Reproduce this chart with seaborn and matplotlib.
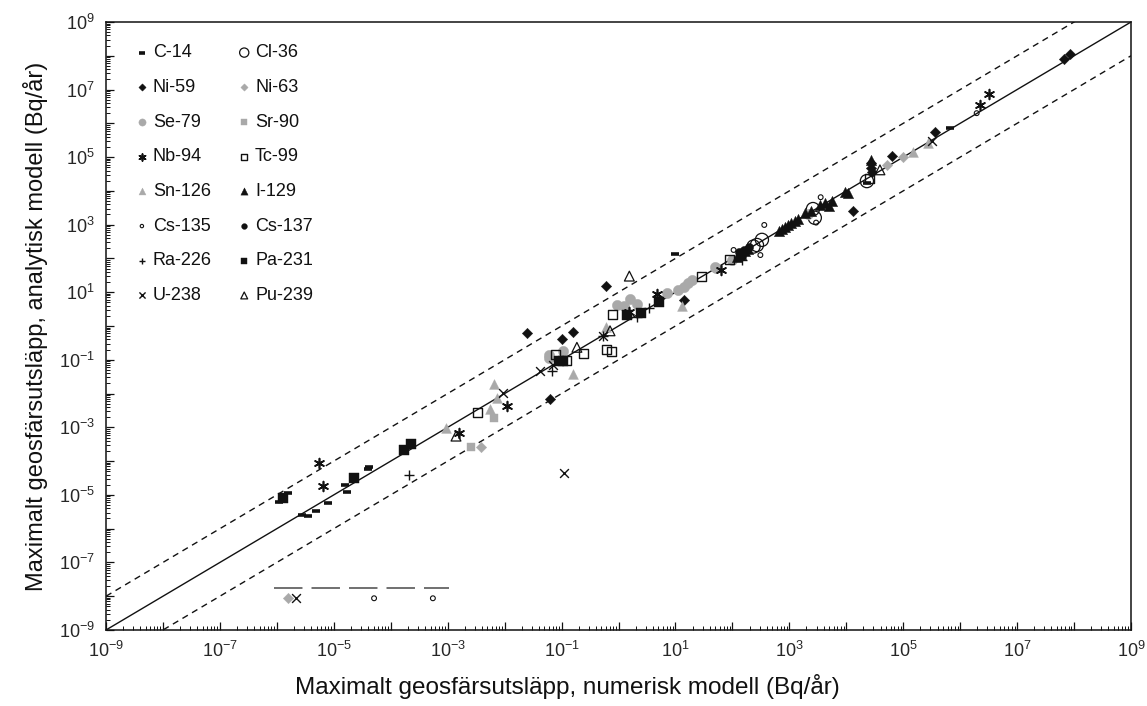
import numpy as np
import pandas as pd
import matplotlib
matplotlib.use("Agg")
import matplotlib.pyplot as plt
import seaborn as sns
from matplotlib.ticker import LogLocator, FuncFormatter, NullFormatter

# ---------------- data (numerisk, analytisk) ----------------
c14_num = [1.6e-6, 1.1e-6, 2.8e-6, 3.5e-6, 4.9e-6, 7.9e-6, 1.6e-5, 1.7e-5, 4.0e-5, 4.2e-5, 9.8, 2.3e4, 6.5e5]
c14_ana = [1.1e-5, 6.0e-6, 2.6e-6, 2.3e-6, 3.4e-6, 5.6e-6, 2.0e-5, 1.2e-5, 5.9e-5, 6.8e-5, 135, 1.7e4, 7.4e5]

cl36_num = [270, 330, 235, 2800, 2600, 2.3e4]
cl36_ana = [250, 355, 225, 1600, 2900, 1.95e4]

ni59_num = [0.025, 0.10, 0.16, 0.063, 0.60, 14, 1.3e4, 2.7e4, 2.7e4, 2.8e4, 6.3e4, 3.6e5, 6.6e7, 8.5e7]
ni59_ana = [0.60, 0.41, 0.68, 0.0068, 15.5, 5.9, 2.6e3, 6.6e4, 4.7e4, 3.7e4, 1.07e5, 5.6e5, 7.8e7, 1.12e8]

ni63_num = [1.6e-6, 3.8e-3, 5.2e4, 1.0e5]
ni63_ana = [8.7e-9, 2.7e-4, 5.9e4, 9.8e4]

se79_num = [0.059, 0.107, 0.059, 0.93, 1.23, 1.6, 2.1, 7.1, 11.2, 14, 16.6, 19.5, 50, 52, 100, 2140]
se79_ana = [0.14, 0.18, 0.11, 4.2, 3.9, 6.2, 4.5, 9.3, 11.7, 14, 19, 23, 55, 51, 93, 2040]

sr90_num = [6.5e-3, 2.6e-3]
sr90_ana = [1.9e-3, 2.6e-4]

nb94_num = [5.5e-6, 6.5e-6, 0.011, 1.55e-3, 1.5, 4.7, 63, 2.2e6, 3.2e6]
nb94_ana = [8.5e-5, 1.8e-5, 4.3e-3, 6.6e-4, 2.6, 8.9, 46, 3.5e6, 7.4e6]

tc99_num = [3.4e-3, 0.78, 0.62, 0.76, 0.245, 0.078, 0.123, 29, 89, 2.6e4]
tc99_ana = [2.75e-3, 2.2, 0.195, 0.18, 0.155, 0.148, 0.098, 29, 93, 2.3e4]

sn126_num = [6.5e-3, 7.4e-3, 5.5e-3, 9.3e-4, 0.16, 0.60, 12.9, 1.5e5, 2.75e5]
sn126_ana = [0.0186, 7.2e-3, 3.5e-3, 9.8e-4, 0.037, 0.91, 3.9, 1.45e5, 2.6e5]

i129_num = [120, 141, 166, 186, 661, 741, 832, 955, 1070, 1260, 1410, 1905, 2400, 3470, 4270, 5010, 5620, 9550, 1.07e4, 2.7e4]
i129_ana = [110, 135, 166, 190, 646, 741, 851, 977, 1120, 1290, 1480, 2190, 2510, 3800, 4370, 3550, 5010, 9550, 8710, 8.1e4]

cs135_num = [5.1e-5, 5.5e-4, 105, 310, 363, 2950, 3550, 1.95e6]
cs135_ana = [8.7e-9, 8.7e-9, 178, 126, 980, 1150, 6500, 2.0e6]

cs137_num = [132, 158, 195, 148]
cs137_ana = [155, 178, 219, 117]

ra226_num = [2.1e-4, 0.068, 2.1, 3.5, 0.54, 148]
ra226_ana = [3.9e-5, 0.045, 1.8, 3.3, 0.50, 89]

pa231_num = [1.3e-6, 2.3e-5, 1.7e-4, 2.3e-4, 0.091, 0.105, 1.4, 2.45, 5.2]
pa231_ana = [7.9e-6, 3.1e-5, 2.2e-4, 3.2e-4, 0.091, 0.091, 2.1, 2.4, 5.2]

u238_num = [2.2e-6, 9.3e-3, 0.041, 0.072, 0.112, 0.54, 3.2e5]
u238_ana = [8.7e-9, 0.0107, 0.048, 0.069, 4.6e-5, 0.50, 2.9e5]

pu239_num = [1.4e-3, 0.186, 1.55, 0.71, 3.9e4]
pu239_ana = [5.5e-4, 0.234, 30, 0.72, 4.2e4]

# reference lines (1:1 and factor 10) and the lower cut-off line
ref_x = [1e-9, 1e9]
ref_factor = 10
cut_x = [9e-7, 1.05e-3]
cut_y = [1.8e-8, 1.8e-8]

# ---------------- styles ----------------
BLACK = "#111111"
GRAY = "#a9a9a9"

series = [
    ("C-14", c14_num, c14_ana, dict(marker="_", s=30, color=BLACK, linewidth=2.6)),
    ("Cl-36", cl36_num, cl36_ana, dict(marker="o", s=90, facecolor="none", edgecolor=BLACK, linewidth=0.9)),
    ("Ni-59", ni59_num, ni59_ana, dict(marker="D", s=28, color=BLACK, edgecolor=BLACK, linewidth=0.3)),
    ("Ni-63", ni63_num, ni63_ana, dict(marker="D", s=28, color=GRAY, edgecolor=GRAY, linewidth=0.3)),
    ("Se-79", se79_num, se79_ana, dict(marker="o", s=55, color=GRAY, edgecolor=GRAY, linewidth=0.3)),
    ("Sr-90", sr90_num, sr90_ana, dict(marker="s", s=40, color=GRAY, edgecolor=GRAY, linewidth=0.3)),
    ("Nb-94", nb94_num, nb94_ana, dict(marker=(6, 2, 0), s=50, color=BLACK, linewidth=1.2)),
    ("Tc-99", tc99_num, tc99_ana, dict(marker="s", s=42, facecolor="none", edgecolor=BLACK, linewidth=1.0)),
    ("Sn-126", sn126_num, sn126_ana, dict(marker="^", s=50, color=GRAY, edgecolor=GRAY, linewidth=0.3)),
    ("I-129", i129_num, i129_ana, dict(marker="^", s=55, color=BLACK, edgecolor=BLACK, linewidth=0.3)),
    ("Cs-135", cs135_num, cs135_ana, dict(marker="o", s=12, facecolor="none", edgecolor=BLACK, linewidth=0.8)),
    ("Cs-137", cs137_num, cs137_ana, dict(marker="o", s=35, color=BLACK, edgecolor=BLACK, linewidth=0.3)),
    ("Ra-226", ra226_num, ra226_ana, dict(marker="+", s=50, color=BLACK, linewidth=1.0)),
    ("Pa-231", pa231_num, pa231_ana, dict(marker="s", s=45, color=BLACK, edgecolor=BLACK, linewidth=0.3)),
    ("U-238", u238_num, u238_ana, dict(marker="x", s=40, color=BLACK, linewidth=1.0)),
    ("Pu-239", pu239_num, pu239_ana, dict(marker="^", s=50, facecolor="none", edgecolor=BLACK, linewidth=0.9)),
]

# ---------------- figure ----------------
sns.set_theme(style="white")
plt.rcParams["font.family"] = ["Liberation Sans", "DejaVu Sans"]
plt.rcParams["mathtext.fontset"] = "custom"
plt.rcParams["mathtext.rm"] = "Liberation Sans"
plt.rcParams["mathtext.it"] = "Liberation Sans:italic"
plt.rcParams["mathtext.bf"] = "Liberation Sans:bold"
plt.rcParams["lines.scale_dashes"] = False

fig = plt.figure(figsize=(11.47, 7.06), dpi=100)
ax = fig.add_axes([106 / 1147, 1 - 630 / 706, 1025 / 1147, 608 / 706])

rx = np.array(ref_x)
ax.plot(rx, rx, color=BLACK, lw=1.0, zorder=1)
ax.plot(rx, rx * ref_factor, color=BLACK, lw=1.0, dashes=(4.5, 3.5), zorder=1)
ax.plot(rx, rx / ref_factor, color=BLACK, lw=1.0, dashes=(4.5, 3.5), zorder=1)
ax.plot(cut_x, cut_y, color="#707070", lw=1.4, dashes=(20.5, 6.5), zorder=1)

handles = {}
for name, xs, ys, kw in series:
    df = pd.DataFrame({"num": xs, "ana": ys})
    sns.scatterplot(data=df, x="num", y="ana", ax=ax, label=name, zorder=3, legend=False, **kw)
    handles[name] = ax.collections[-1]

ax.set_xscale("log")
ax.set_yscale("log")
ax.set_xlim(1e-9, 1e9)
ax.set_ylim(1e-9, 1e9)


def fmt(v, _):
    e = int(round(np.log10(v)))
    return r"$10^{%d}$" % e if e % 2 != 0 else ""


for axis in (ax.xaxis, ax.yaxis):
    axis.set_major_locator(LogLocator(base=10, numticks=40))
    axis.set_minor_locator(LogLocator(base=10, subs=np.arange(2, 10), numticks=40))
    axis.set_major_formatter(FuncFormatter(fmt))
    axis.set_minor_formatter(NullFormatter())

ax.tick_params(which="major", direction="in", length=6, width=0.9, labelsize=13, color=BLACK,
               bottom=True, left=True, top=False, right=False, pad=8)
ax.tick_params(which="minor", direction="in", length=3, width=0.7, color=BLACK,
               bottom=True, left=True, top=False, right=False)
for sp in ax.spines.values():
    sp.set_color(BLACK)
    sp.set_linewidth(1.1)

ax.set_xlabel("Maximalt geosfärsutsläpp, numerisk modell (Bq/år)", fontsize=17.5, color=BLACK)
ax.xaxis.set_label_coords(0.45, -0.072)
ax.set_ylabel("Maximalt geosfärsutsläpp, analytisk modell (Bq/år)", fontsize=17, color=BLACK, labelpad=8)

order = ["C-14", "Ni-59", "Se-79", "Nb-94", "Sn-126", "Cs-135", "Ra-226", "U-238",
         "Cl-36", "Ni-63", "Sr-90", "Tc-99", "I-129", "Cs-137", "Pa-231", "Pu-239"]
leg = ax.legend([handles[n] for n in order], order, ncol=2, frameon=False, loc="upper left",
                bbox_to_anchor=(0.013, 0.99), fontsize=13, markerscale=0.7,
                handlelength=0.7, handletextpad=0.25, columnspacing=1.45, labelspacing=0.98)
for t in leg.get_texts():
    t.set_color(BLACK)

fig.savefig("out.png", dpi=100)
